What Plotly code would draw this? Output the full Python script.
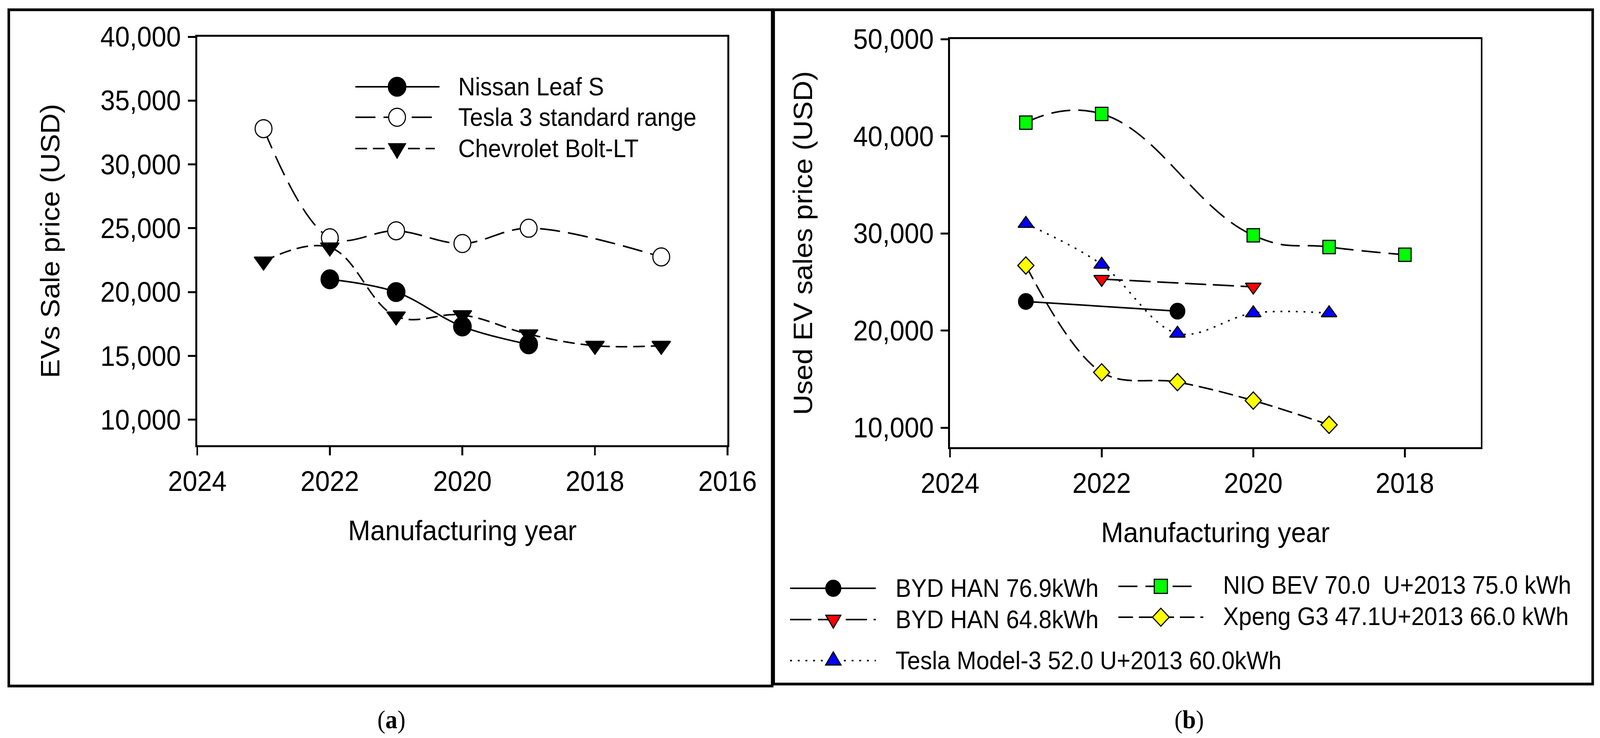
import plotly.graph_objects as go

W, H = 4372, 1888

# ---------------- data: panel (a) ----------------
years_nissan = [2022, 2021, 2020, 2019]
price_nissan = [21000, 20000, 17300, 15900]
years_tesla3 = [2023, 2022, 2021, 2020, 2019, 2017]
price_tesla3 = [32800, 24250, 24800, 23800, 25000, 22750]
years_chevy = [2023, 2022, 2021, 2020, 2019, 2018, 2017]
price_chevy = [22400, 23500, 18100, 18200, 16700, 15800, 15800]
names_a = ["Nissan Leaf S", "Tesla 3 standard range", "Chevrolet Bolt-LT"]

# ---------------- data: panel (b) ----------------
years_byd769 = [2023, 2021]
price_byd769 = [23000, 22000]
years_byd648 = [2022, 2020]
price_byd648 = [25300, 24500]
years_teslam3 = [2023, 2022, 2021, 2020, 2019]
price_teslam3 = [31000, 26800, 19700, 21800, 21800]
years_nio = [2023, 2022, 2020, 2019, 2018]
price_nio = [41400, 42300, 29800, 28600, 27800]
years_xpeng = [2023, 2022, 2021, 2020, 2019]
price_xpeng = [26700, 15700, 14700, 12800, 10300]
names_b = ["BYD HAN 76.9kWh", "BYD HAN 64.8kWh",
           "Tesla Model-3 52.0 U+2013 60.0kWh",
           "NIO BEV 70.0  U+2013 75.0 kWh",
           "Xpeng G3 47.1U+2013 66.0 kWh"]

xticks_a = [2024, 2022, 2020, 2018, 2016]
xticks_b = [2024, 2022, 2020, 2018]


def px(x):
    return x / W


def py(y):
    return 1 - y / H


FONT = "Liberation Sans, Arial, sans-serif"

DASH_T3 = "55px,22px"
DASH_CH = "32px,16px"
DASH_NIO = "52px,22px"
DASH_BYD = "58px,18px"
DASH_XP = "40px,16px"
DASH_DOT = "5px,16px"

fig = go.Figure()


def add(x, y, xa, ya, dash, symbol, size, fill, lw=4, mlw=3, smooth=1.0):
    fig.add_trace(go.Scatter(
        x=x, y=y, xaxis=xa, yaxis=ya, mode="lines+markers",
        line=dict(color="black", width=lw, dash=dash, shape="spline", smoothing=smooth),
        marker=dict(symbol=symbol, size=size, color=fill,
                    line=dict(color="black", width=mlw)),
        showlegend=False, cliponaxis=False))


add(years_tesla3, price_tesla3, "x", "y", DASH_T3, "circle", 46, "white")
add(years_chevy, price_chevy, "x", "y", DASH_CH, "triangle-down", 44, "black", smooth=1.1)
add(years_nissan, price_nissan, "x", "y", "solid", "circle", 48, "black")

add(years_nio, price_nio, "x2", "y2", DASH_NIO, "square", 34, "#00FF00", smooth=1.3)
add(years_teslam3, price_teslam3, "x2", "y2", DASH_DOT, "triangle-up", 37, "#0000FF")
add(years_byd648, price_byd648, "x2", "y2", DASH_BYD, "triangle-down", 37, "#FF0000")
add(years_xpeng, price_xpeng, "x2", "y2", DASH_XP, "diamond", 34, "#FFFF00")
add(years_byd769, price_byd769, "x2", "y2", "solid", "circle", 40, "black")

axis_common = dict(showline=True, linecolor="black", linewidth=5, mirror=True,
                   ticks="outside", ticklen=21, tickwidth=5, tickcolor="black",
                   showgrid=False, zeroline=False, automargin=False,
                   tickfont=dict(family=FONT, size=72, color="black"))

fig.update_layout(
    width=W, height=H, margin=dict(l=0, r=0, t=0, b=0),
    paper_bgcolor="white", plot_bgcolor="white",
    font=dict(family=FONT, color="black"),
    xaxis=dict(domain=[px(539), px(1988)], range=[2024, 2016], tickvals=xticks_a,
               anchor="y", ticklabelstandoff=5,
               title=dict(text="Manufacturing year", font=dict(size=73), standoff=62),
               **axis_common),
    yaxis=dict(domain=[py(1139), py(94)], range=[8000, 40000], dtick=5000, tick0=0,
               tickformat=",d", anchor="x", ticklabelstandoff=4,
               title=dict(text="EVs Sale price (USD)", font=dict(size=73), standoff=89),
               **axis_common),
    xaxis2=dict(domain=[px(2596), px(4046)], range=[2024, 2017], tickvals=xticks_b,
                anchor="y2", ticklabelstandoff=5,
                title=dict(text="Manufacturing year", font=dict(size=73), standoff=62),
                **axis_common),
    yaxis2=dict(domain=[py(1144), py(100)], range=[8000, 50000], dtick=10000, tick0=0,
                tickformat=",d", anchor="x2", ticklabelstandoff=4,
                title=dict(text="Used EV sales price (USD)", font=dict(size=73), standoff=89),
                **axis_common),
)

shapes = []
annotations = []

shapes.append(dict(type="rect", xref="paper", yref="paper", x0=px(24), x1=px(2110),
                   y0=py(1755), y1=py(25), line=dict(color="black", width=7)))
shapes.append(dict(type="rect", xref="paper", yref="paper", x0=px(2114), x1=px(4352),
                   y0=py(1750), y1=py(25), line=dict(color="black", width=7)))


def marker_shape(kind, cx, cy, size, fill):
    base = dict(xref="paper", yref="paper", xsizemode="pixel", ysizemode="pixel",
                xanchor=px(cx), yanchor=py(cy), fillcolor=fill,
                line=dict(color="black", width=3), layer="above")
    r = size / 2
    if kind == "circle":
        base.update(type="circle", x0=-r, x1=r, y0=-r, y1=r)
    elif kind == "square":
        base.update(type="rect", x0=-r, x1=r, y0=-r, y1=r)
    elif kind == "tri-up":
        h = size * 0.8
        base.update(type="path", path=f"M {-r},{-h/3} L {r},{-h/3} L 0,{2*h/3} Z")
    elif kind == "tri-down":
        h = size * 0.8
        base.update(type="path", path=f"M {-r},{h/3} L {r},{h/3} L 0,{-2*h/3} Z")
    elif kind == "diamond":
        base.update(type="path", path=f"M {-r},0 L 0,{r} L {r},0 L 0,{-r} Z")
    shapes.append(base)


def legend_entry(x0, x1, xm, y, dash, kind, size, fill, text, tx, ty=None, lw=4):
    shapes.append(dict(type="line", xref="paper", yref="paper", x0=px(x0), x1=px(x1),
                       y0=py(y), y1=py(y), line=dict(color="black", width=lw, dash=dash)))
    marker_shape(kind, xm, y, size, fill)
    annotations.append(dict(xref="paper", yref="paper", x=px(tx), y=py(ty if ty else y),
                            text=text, showarrow=False, xanchor="left", yanchor="middle",
                            font=dict(family=FONT, size=64, color="black")))


legend_entry(971, 1201, 1085, 222, "solid", "circle", 48, "black", names_a[0], 1250)
legend_entry(971, 1186, 1085, 300, DASH_T3, "circle", 46, "white", names_a[1], 1250)
legend_entry(971, 1188, 1085, 380, DASH_CH, "tri-down", 46, "black", names_a[2], 1250)

legend_entry(2159, 2393, 2277, 1505, "solid", "circle", 41, "black", names_b[0], 2445)
legend_entry(2159, 2393, 2277, 1585, DASH_BYD, "tri-down", 41, "#FF0000", names_b[1], 2445)
legend_entry(2159, 2393, 2277, 1690, DASH_DOT, "tri-up", 42, "#0000FF", names_b[2], 2445)
legend_entry(3056, 3274, 3172, 1500, DASH_NIO, "square", 36, "#00FF00", names_b[3], 3340, 1497)
legend_entry(3056, 3288, 3172, 1579, DASH_XP, "diamond", 46, "#FFFF00", names_b[4], 3340, 1577)

annotations.append(dict(xref="paper", yref="paper", x=px(1069), y=py(1841),
                        text="(<b>a</b>)", showarrow=False, xanchor="center", yanchor="middle",
                        font=dict(family="Liberation Serif, Times New Roman, serif", size=66,
                                  color="black")))
annotations.append(dict(xref="paper", yref="paper", x=px(3249), y=py(1841),
                        text="(<b>b</b>)", showarrow=False, xanchor="center", yanchor="middle",
                        font=dict(family="Liberation Serif, Times New Roman, serif", size=66,
                                  color="black")))

fig.update_layout(shapes=shapes, annotations=annotations)

# fit the fixed-size figure into whatever viewport the page is shown in
FIT_JS = """
var gd = document.getElementById('{plot_id}');
var de = document.documentElement;
de.style.margin = '0'; de.style.padding = '0'; de.style.overflow = 'hidden';
document.body.style.margin = '0'; document.body.style.padding = '0';
document.body.style.overflow = 'hidden';
var vw = de.clientWidth, vh = de.clientHeight;
var sx = vw / %d, sy = vh / %d;
var wrap = gd.parentElement;
wrap.style.width = vw + 'px'; wrap.style.height = vh + 'px'; wrap.style.overflow = 'hidden';
gd.style.transformOrigin = '0 0';
gd.style.transform = 'scale(' + sx + ',' + sy + ')';
""" % (W, H)

fig.write_html("out.html", post_script=FIT_JS, config={"displayModeBar": False})
